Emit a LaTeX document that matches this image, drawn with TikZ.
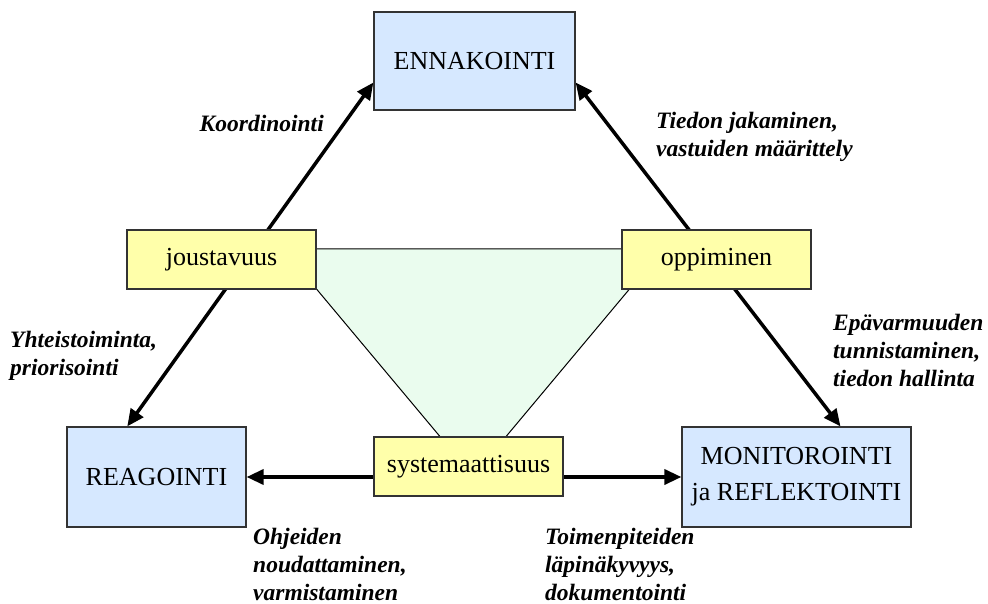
\documentclass[tikz,border=0pt]{standalone}
\usepackage{fontspec}
\setmainfont{Liberation Serif}
\usetikzlibrary{arrows.meta,backgrounds}

\definecolor{goalblue}{RGB}{214,232,255}
\definecolor{traityellow}{RGB}{255,255,170}
\definecolor{coregreen}{RGB}{234,252,238}

\begin{document}
\begin{tikzpicture}[x=1pt, y=-1pt, >={Triangle[length=17pt,width=15pt]},
    goal/.style={draw=black!80, line width=1.2pt, fill=goalblue, inner sep=0pt,
      align=center, font=\fontsize{26}{36}\selectfont},
    trait/.style={draw=black!80, line width=1.2pt, fill=traityellow, inner sep=0pt,
      minimum width=189pt, minimum height=59pt, font=\fontsize{26}{30}\selectfont},
    link/.style={<->, line width=3.5pt},
    lbl/.style={inner sep=0pt, align=left,
      font=\fontsize{23.5}{28}\selectfont\bfseries\itshape}]
    \useasboundingbox (0,0) rectangle (988,604);

    % Goal boxes
    \node[goal, minimum width=201pt, minimum height=98pt] (enn) at (474.5,61) {ENNAKOINTI};
    \node[goal, minimum width=179pt, minimum height=100pt] (rea) at (156.5,477) {REAGOINTI};
    \node[goal, minimum width=229pt, minimum height=100pt] (mon) at (796.5,477) {MONITOROINTI\\ja REFLEKTOINTI};

    % Traits
    \node[trait] (jou) at (221.5,259.5) {joustavuus};
    \node[trait] (opp) at (716.5,259.5) {oppiminen};
    \node[trait] (sys) at (468.5,466.5) {systemaattisuus};

    \begin{scope}[on background layer]
        % Triangle between the traits
        \draw[line width=1pt, fill=coregreen] (283,249) -- (663,249) -- (473,476) -- cycle;

        % Arrows between goals
        \draw[link] (rea.120) -- (enn.192);
        \draw[link] (mon.49) -- (enn.348);
        \draw[link] (rea.east) -- (mon.west);
    \end{scope}

    % Arrow labels
    \node[lbl, anchor=east] (koo) at (324,123) {Koordinointi};
    \node[lbl, anchor=west] (tie) at (656,137) {Tiedon jakaminen,\\vastuiden määrittely};
    \node[lbl, anchor=west] (yht) at (10,356) {Yhteistoiminta,\\priorisointi};
    \node[lbl, anchor=west] (epa) at (833,350) {Epävarmuuden\\tunnistaminen,\\tiedon hallinta};
    \node[lbl, anchor=west] (ohj) at (253,564) {Ohjeiden\\noudattaminen,\\varmistaminen};
    \node[lbl, anchor=west] (toi) at (545,564) {Toimenpiteiden\\läpinäkyvyys,\\dokumentointi};
\end{tikzpicture}
\end{document}
